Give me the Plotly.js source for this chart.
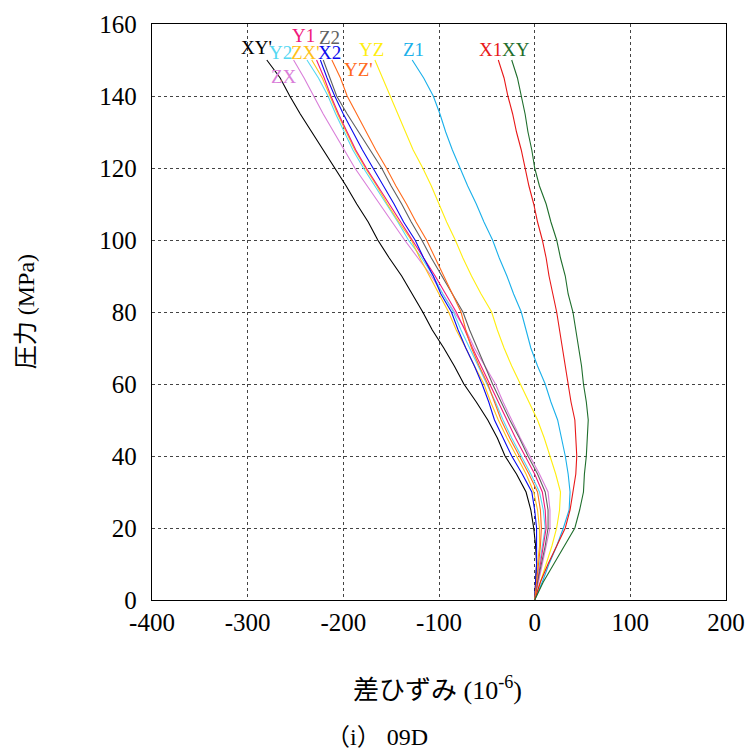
<!DOCTYPE html>
<html>
<head>
<meta charset="utf-8">
<script src="https://cdn.plot.ly/plotly-3.0.1.min.js"></script>
<style>html,body{margin:0;padding:0;background:#fff;}#chart{width:752px;height:753px;}</style>
</head>
<body>
<div id="chart"></div>
<script>
// Pressure levels (MPa)
const pressure = [0,5,10,15,20,25,30,35,40,45,50,55,60,65,70,75,80,85,90,95,100,105,110,115,120,125,130,135,140,145,150];

// Differential strain (10^-6) per gauge
const sXYp = [0,1,2,1,-1,-4,-9,-19,-31,-39,-49,-61,-74,-84,-95,-107,-117,-128,-139,-152,-164,-174,-186,-197,-209,-221,-233,-245,-256,-266,-280];
const sZX  = [0,4,8,12,16,16,14,5,-5,-15,-24,-33,-41,-52,-63,-72,-84,-96,-108,-122,-136,-149,-162,-175,-188,-199,-210,-221,-231,-241,-252];
const sY2  = [0,2,5,8,11,9,5,-4,-14,-24,-33,-41,-50,-59,-68,-77,-85,-96,-106,-118,-132,-143,-155,-167,-179,-190,-199,-208,-216,-226,-238];
const sZXp = [0,2,3,5,5,3,-1,-9,-19,-29,-38,-46,-53,-63,-72,-82,-90,-100,-110,-120,-129,-142,-154,-165,-177,-188,-197,-206,-214,-222,-233];
const sY1  = [0,3,6,9,12,11,8,0,-10,-20,-29,-38,-47,-56,-65,-73,-82,-93,-104,-116,-128,-140,-152,-164,-176,-187,-196,-205,-213,-220,-228];
const sX2  = [0,1,2,2,2,0,-3,-13,-24,-33,-42,-48,-55,-63,-72,-80,-87,-98,-106,-116,-125,-137,-147,-158,-169,-180,-190,-200,-209,-217,-224];
const sZ2  = [0,3,7,11,14,14,11,3,-7,-16,-26,-35,-44,-52,-60,-68,-75,-86,-97,-108,-118,-129,-139,-150,-160,-172,-184,-196,-207,-214,-221];
const sYZp = [0,2,4,6,7,6,3,-6,-16,-26,-35,-42,-49,-58,-66,-72,-77,-86,-95,-104,-113,-124,-134,-145,-155,-166,-176,-186,-196,-203,-212];
const sYZ  = [0,6,12,18,23,26,27,22,16,10,3,-6,-15,-24,-32,-39,-45,-56,-66,-75,-83,-92,-100,-108,-117,-127,-135,-143,-151,-159,-167];
const sZ1  = [0,8,15,23,30,36,37,35,32,28,24,17,11,3,-4,-9,-14,-22,-29,-37,-44,-53,-61,-70,-78,-86,-93,-99,-106,-116,-128];
const sX1  = [0,6,14,23,32,37,40,43,44,43,42,38,35,32,29,26,23,19,15,12,8,3,-1,-6,-10,-14,-19,-23,-28,-32,-38];
const sXY  = [0,9,20,31,42,47,51,52,54,55,56,54,51,49,46,43,40,35,32,27,23,17,12,5,0,-3,-7,-10,-14,-18,-24];

const seriesNames = ["XY'","ZX","Y2","ZX'","Y1","X2","Z2","YZ'","YZ","Z1","X1","XY"];
const seriesData  = [sXYp,sZX,sY2,sZXp,sY1,sX2,sZ2,sYZp,sYZ,sZ1,sX1,sXY];
const seriesColors = ["#000000","#d97ed9","#55d8f2","#ffc21a","#f0187c","#0a0aee","#606060","#ff6a1c","#ffee10","#1ab0ea","#e81818","#1f6e2c"];

// Label anchor positions (strain, pressure)
const labelX = [-291,-262,-266,-240,-242,-214,-214,-184,-171,-127,-46,-20];
const labelY = [153.6,145.3,152.2,152.2,156.7,152.2,156.2,147.5,153,153,153,153];

const xTicks = [-400,-300,-200,-100,0,100,200];
const yTicks = [0,20,40,60,80,100,120,140,160];

const traces = seriesData.map((d,i)=>({
  x: d, y: pressure, type:'scatter', mode:'lines', name: seriesNames[i],
  line:{color: seriesColors[i], width:1.1}, hoverinfo:'skip'
}));

const serif = "'Liberation Serif', 'Times New Roman', serif";
const cjk = "'Liberation Serif', 'Noto Sans CJK JP', serif";
const annotations = seriesNames.map((n,i)=>({
  x: labelX[i], y: labelY[i], xref:'x', yref:'y', text: n, showarrow:false,
  font:{family: serif, size:19, color: seriesColors[i]}
}));
annotations.push({
  xref:'paper', yref:'paper', x:0.498, y:-0.153, xanchor:'center', yanchor:'middle',
  text:'差ひずみ (10<sup>-6</sup>)', showarrow:false,
  font:{family: cjk, size:26, color:'#000'}
});
annotations.push({
  xref:'paper', yref:'paper', x:-0.219, y:0.5, xanchor:'center', yanchor:'middle',
  text:'圧力 (MPa)', showarrow:false, textangle:-90,
  font:{family: cjk, size:24, color:'#000'}
});
annotations.push({
  xref:'paper', yref:'paper', x:0.392, y:-0.238, xanchor:'center', yanchor:'middle',
  text:'（i） 09D', showarrow:false,
  font:{family: cjk, size:24, color:'#000'}
});

const layout = {
  width:752, height:753,
  margin:{l:152, r:26, t:24, b:153},
  paper_bgcolor:'#fff', plot_bgcolor:'#fff',
  showlegend:false,
  xaxis:{range:[-400,200], tickvals:xTicks, ticktext:xTicks.map(String), showgrid:true,
    gridcolor:'#444', griddash:'3px,3px', gridwidth:1, zeroline:false,
    showline:true, linecolor:'#000', linewidth:1.2, mirror:true, ticks:'',
    tickfont:{family: serif, size:25, color:'#000'}},
  yaxis:{range:[0,160], tickvals:yTicks, ticktext:yTicks.map(String), showgrid:true,
    gridcolor:'#444', griddash:'3px,3px', gridwidth:1, zeroline:false,
    showline:true, linecolor:'#000', linewidth:1.2, mirror:true, ticks:'',
    ticklabelstandoff:9,
    tickfont:{family: serif, size:25, color:'#000'}},
  annotations: annotations
};

Plotly.newPlot('chart', traces, layout, {staticPlot:true});
</script>
</body>
</html>
